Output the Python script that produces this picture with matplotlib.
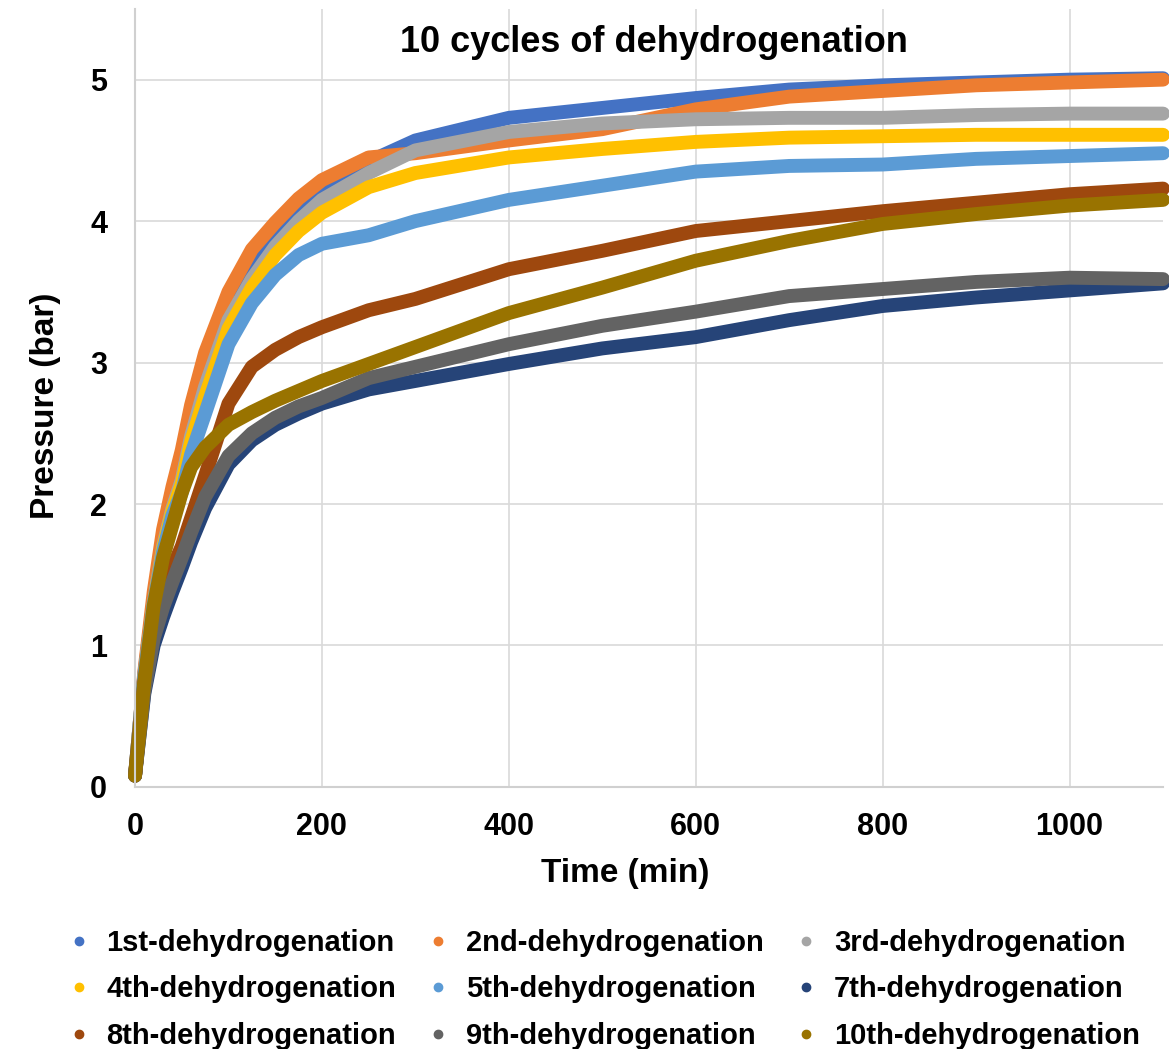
import matplotlib
matplotlib.use('Agg')
import matplotlib.pyplot as plt
from matplotlib.lines import Line2D

plt.rcParams['font.family'] = ['Liberation Sans', 'DejaVu Sans']
plt.rcParams['font.weight'] = 'bold'

# time (min) and pressure (bar)
time = [0, 5, 10, 20, 30, 40, 50, 60, 75, 100, 125, 150, 175, 200,
        250, 300, 400, 500, 600, 700, 800, 900, 1000, 1100]

p1 = [0.08, 0.45, 0.80, 1.33, 1.74, 2.02, 2.24, 2.55, 2.92, 3.38, 3.67, 3.90, 4.07, 4.21,
      4.42, 4.57, 4.73, 4.80, 4.87, 4.93, 4.96, 4.98, 5.00, 5.01]
p2 = [0.08, 0.45, 0.82, 1.38, 1.82, 2.12, 2.38, 2.70, 3.07, 3.50, 3.80, 3.99, 4.16, 4.29,
      4.45, 4.48, 4.57, 4.65, 4.79, 4.88, 4.92, 4.96, 4.98, 5.00]
p3 = [0.08, 0.44, 0.78, 1.30, 1.70, 1.97, 2.17, 2.48, 2.83, 3.30, 3.59, 3.82, 4.00, 4.15,
      4.34, 4.50, 4.63, 4.69, 4.72, 4.73, 4.73, 4.75, 4.76, 4.76]
p4 = [0.08, 0.44, 0.78, 1.29, 1.68, 1.95, 2.14, 2.44, 2.76, 3.24, 3.53, 3.76, 3.93, 4.06,
      4.24, 4.34, 4.45, 4.51, 4.56, 4.59, 4.60, 4.61, 4.61, 4.61]
p5 = [0.08, 0.45, 0.79, 1.29, 1.66, 1.92, 2.08, 2.35, 2.64, 3.13, 3.42, 3.62, 3.76, 3.84,
      3.90, 4.00, 4.15, 4.25, 4.35, 4.39, 4.40, 4.44, 4.46, 4.48]
p7 = [0.08, 0.37, 0.66, 1.00, 1.20, 1.38, 1.55, 1.73, 1.97, 2.28, 2.45, 2.56, 2.64, 2.71,
      2.81, 2.87, 2.99, 3.10, 3.18, 3.30, 3.40, 3.46, 3.51, 3.56]
p8 = [0.08, 0.42, 0.74, 1.15, 1.38, 1.55, 1.70, 1.90, 2.20, 2.71, 2.97, 3.09, 3.18, 3.25,
      3.37, 3.45, 3.66, 3.79, 3.93, 4.00, 4.07, 4.13, 4.19, 4.23]
p9 = [0.08, 0.38, 0.68, 1.05, 1.27, 1.45, 1.62, 1.80, 2.05, 2.34, 2.50, 2.61, 2.69, 2.75,
      2.89, 2.97, 3.13, 3.26, 3.36, 3.47, 3.52, 3.57, 3.60, 3.59]
p10 = [0.08, 0.40, 0.75, 1.28, 1.62, 1.85, 2.08, 2.26, 2.40, 2.56, 2.65, 2.73, 2.80, 2.87,
       2.99, 3.11, 3.35, 3.53, 3.72, 3.86, 3.98, 4.05, 4.11, 4.15]

labels = ['1st-dehydrogenation', '2nd-dehydrogenation', '3rd-dehydrogenation',
          '4th-dehydrogenation', '5th-dehydrogenation', '7th-dehydrogenation',
          '8th-dehydrogenation', '9th-dehydrogenation', '10th-dehydrogenation']
series = [p1, p2, p3, p4, p5, p7, p8, p9, p10]
colors = ['#4472C4', '#ED7D31', '#A5A5A5', '#FFC000', '#5B9BD5',
          '#264478', '#9E480E', '#636363', '#997300']

fig = plt.figure(figsize=(11.69, 10.49), dpi=100)
ax = fig.add_axes([0.1155, 0.2498, 0.8794, 0.7417])

for vals, col in zip(series, colors):
    ax.plot(time, vals, color=col, lw=10, solid_capstyle='round',
            solid_joinstyle='round', clip_on=False)

ax.set_xlim(0, 1100)
ax.set_ylim(0, 5.5)
ax.set_xticks([0, 200, 400, 600, 800, 1000])
ax.set_yticks([0, 1, 2, 3, 4, 5])
ax.grid(True, color='#D9D9D9', lw=1.2)
ax.set_axisbelow(True)
for s in ['top', 'right']:
    ax.spines[s].set_visible(False)
for s in ['left', 'bottom']:
    ax.spines[s].set_color('#D0D0D0')
    ax.spines[s].set_linewidth(1.5)
ax.tick_params(axis='both', length=0, labelsize=22)
ax.tick_params(axis='x', pad=18)
ax.tick_params(axis='y', pad=20)
for t in ax.get_xticklabels() + ax.get_yticklabels():
    t.set_fontweight('bold')

ax.set_xlabel('Time (min)', fontsize=24, fontweight='bold')
ax.xaxis.set_label_coords(0.477, -0.091)
ax.set_ylabel('Pressure (bar)', fontsize=24, fontweight='bold')
ax.yaxis.set_label_coords(-0.072, 0.49)

ax.text(0.505, 0.957, '10 cycles of dehydrogenation', transform=ax.transAxes,
        ha='center', va='center', fontsize=26, fontweight='bold')

# legend: rows read left to right, matplotlib fills columns first
handles = [Line2D([], [], ls='none', marker='o', ms=6, color=c) for c in colors]
order = [0, 3, 6, 1, 4, 7, 2, 5, 8]
fig.legend([handles[i] for i in order], [labels[i] for i in order],
           loc='upper left', bbox_to_anchor=(0.061, 0.1144), ncol=3, frameon=False,
           prop={'size': 21, 'weight': 'bold'}, handlelength=0.5, handletextpad=0.7,
           columnspacing=1.2, labelspacing=0.63, borderpad=0, borderaxespad=0)

plt.savefig('out.png', dpi=100)
